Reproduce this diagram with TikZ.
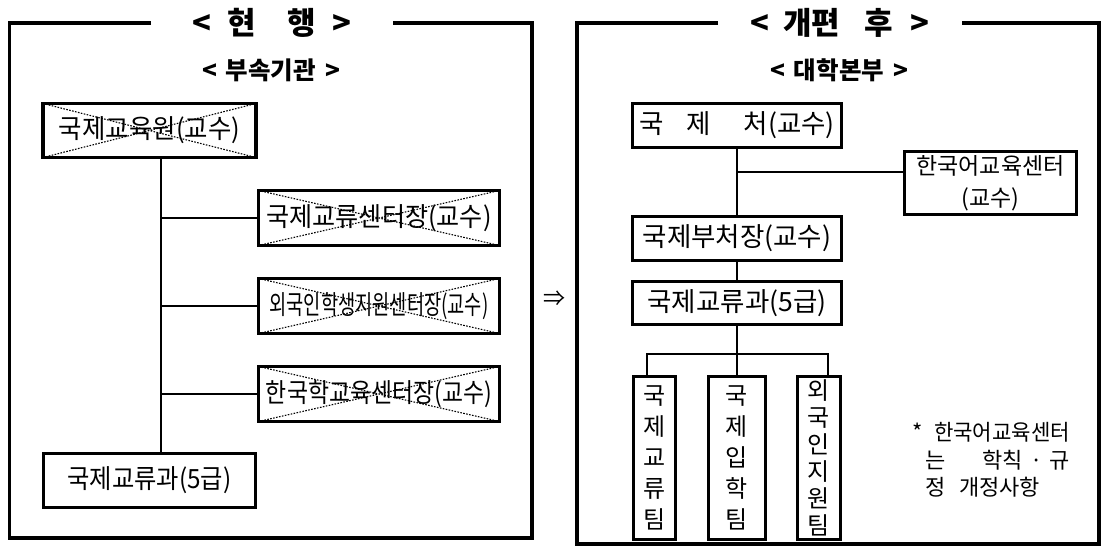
\documentclass[tikz,border=0pt]{standalone}
\usepackage{fontspec}
\usepackage{graphicx}
\setmainfont{Noto Sans CJK KR}
\newcommand{\sqz}[2]{\resizebox{#1}{\height}{#2}}
\begin{document}
\begin{tikzpicture}[x=1pt, y=-1pt,
  box/.style={draw, line width=3.2pt, inner sep=0pt, font=\fontsize{26.5pt}{30pt}\selectfont},
  crossed/.style={box, path picture={\draw[line width=1.1pt, dash pattern=on 1.6pt off 1.4pt]
    (path picture bounding box.north west) -- (path picture bounding box.south east)
    (path picture bounding box.south west) -- (path picture bounding box.north east);}},
  team/.style={box, align=center, font=\fontsize{24pt}{31pt}\selectfont},
  link/.style={line width=2.8pt},
  frame/.style={line width=3.2pt},
  title/.style={inner sep=0pt, font=\fontsize{31pt}{36pt}\selectfont\bfseries},
  subtitle/.style={inner sep=0pt, font=\fontsize{24.5pt}{28pt}\selectfont\bfseries}]
\useasboundingbox (0,0) rectangle (1102,549);
% current organisation
\node[title] (ttl0) at (272,23) {<\hspace{16pt}현\hspace{32pt}행\hspace{16pt}>};
\draw[frame] (151,23) -| (9.5,538) -| (532,23) -- (393,23);
\node[subtitle] (sub0) at (271,70) {<\hspace{9pt}부속기관\hspace{9pt}>};
\node[crossed, minimum width=213pt, minimum height=54pt] (cur0) at (149.5,130.5) {\sqz{181pt}{국제교육원(교수)}};
\node[crossed, minimum width=241pt, minimum height=55pt] (cur1) at (379,218) {\sqz{225pt}{국제교류센터장(교수)}};
\node[crossed, minimum width=241pt, minimum height=55pt] (cur2) at (379,306) {\sqz{219pt}{외국인학생지원센터장(교수)}};
\node[crossed, minimum width=241pt, minimum height=55pt] (cur3) at (379,394) {\sqz{226pt}{한국학교육센터장(교수)}};
\node[box, minimum width=212pt, minimum height=54pt] (cur4) at (149.5,480.5) {\sqz{164pt}{국제교류과(5급)}};
\coordinate (tk0) at (161,0);
\draw[link] (cur0.south -| tk0) -- (cur4.north -| tk0);
\foreach \n in {cur1,cur2,cur3}
  \draw[link] (\n.west -| tk0) -- (\n.west);
\node[inner sep=0pt, font=\fontsize{22pt}{26pt}\selectfont] (arr) at (554,299) {⇒};
% after reorganisation
\node[title] (ttl1) at (840,23) {<\hspace{14pt}개편\hspace{24pt}후\hspace{18pt}>};
\draw[frame] (718,23) -| (577,544) -| (1099,23) -- (962,23);
\node[subtitle] (sub1) at (839,70) {<\hspace{9pt}대학본부\hspace{9pt}>};
\node[box, minimum width=209pt, minimum height=44pt] (new0) at (737,125.5) {국\hspace{23pt}제\hspace{33pt}처(교수)};
\node[box, minimum width=172pt, minimum height=63pt, align=center, font=\fontsize{23pt}{32pt}\selectfont] (new1) at (990.5,183) {한국어교육센터\\(교수)};
\node[box, minimum width=209pt, minimum height=44pt] (new2) at (737,238.5) {국제부처장(교수)};
\node[box, minimum width=209pt, minimum height=43pt] (new3) at (737,303) {국제교류과(5급)};
\node[team, minimum width=42pt, minimum height=163pt] (new4) at (654.5,458) {국\\제\\교\\류\\팀};
\node[team, minimum width=57pt, minimum height=163pt] (new5) at (737,458) {국\\제\\입\\학\\팀};
\node[team, minimum width=43pt, minimum height=163pt, font=\fontsize{24pt}{27pt}\selectfont] (new6) at (819,458) {외\\국\\인\\지\\원\\팀};
\coordinate (jn0) at (737,172);
\coordinate (bus) at (737,354);
\draw[link] (new0) -- (new2);
\draw[link] (jn0) -- (jn0 -| new1.west);
\draw[link] (new2) -- (new3);
\draw[link] (new3) -- (bus);
\draw[link] ([xshift=-7.5pt]new4.north) |- (bus) -| ([xshift=9pt]new6.north);
\draw[link] (bus) -- (new5.north);
\node[inner sep=0pt, text width=158pt, align=left, font=\fontsize{22pt}{27.5pt}\selectfont] (rmk) at (991,460)
  {*\hfill\sqz{136pt}{한국어교육센터}\\
   \hspace*{13pt}는\hfill 학칙~·~규\\
   \hspace*{13pt}정\hspace{14pt}개정사항};
\end{tikzpicture}
\end{document}
